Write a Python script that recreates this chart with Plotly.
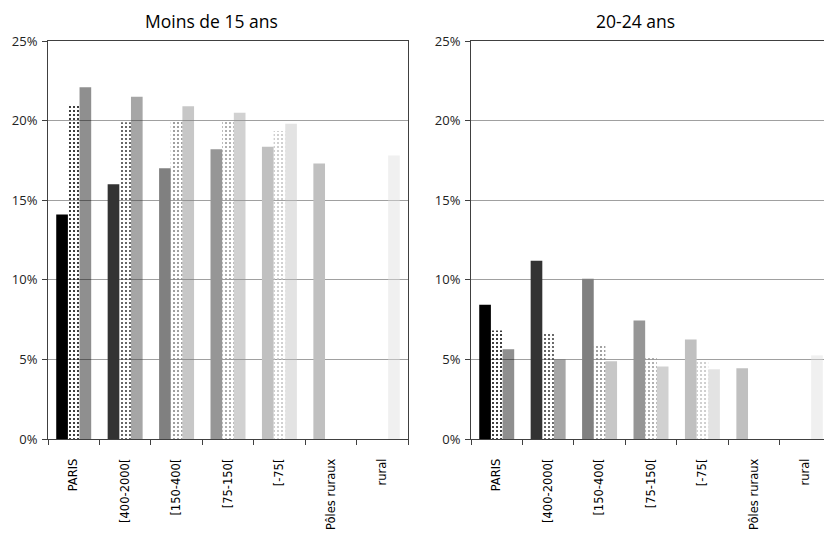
import plotly.graph_objects as go

categories = ["PARIS", "[400-2000[", "[150-400[", "[75-150[", "[-75[", "Pôles ruraux", "rural"]

# Moins de 15 ans (fractions)
young_s1 = [0.141, 0.160, 0.170, 0.182, 0.1835, 0.173, None]
young_s2 = [0.2105, 0.199, 0.200, 0.200, 0.1935, None, None]
young_s3 = [0.221, 0.215, 0.209, 0.205, 0.198, None, 0.178]

# 20-24 ans (fractions)
adult_s1 = [0.0844, 0.1119, 0.1006, 0.0744, 0.0625, 0.0444, None]
adult_s2 = [0.0681, 0.0663, 0.0588, 0.0519, 0.0488, None, None]
adult_s3 = [0.0563, 0.0500, 0.0488, 0.0456, 0.0438, None, 0.0525]

cat_colors = ["#000000", "#333333", "#808080", "#969696", "#c0c0c0", "#c0c0c0", "#dddddd"]

titles = ["Moins de 15 ans", "20-24 ans"]

fig = go.Figure()

def add_panel(s1, s2, s3, xa, ya):
    fig.add_trace(go.Bar(x=categories, y=s1, xaxis=xa, yaxis=ya,
                         marker=dict(color=cat_colors, line=dict(width=0)),
                         showlegend=False))
    fig.add_trace(go.Bar(x=categories, y=s2, xaxis=xa, yaxis=ya,
                         marker=dict(color=cat_colors, line=dict(width=0),
                                     pattern=dict(shape=".", fillmode="replace",
                                                  bgcolor=cat_colors, fgcolor="#ffffff",
                                                  size=4, solidity=0.2)),
                         showlegend=False))
    fig.add_trace(go.Bar(x=categories, y=s3, xaxis=xa, yaxis=ya,
                         marker=dict(color=cat_colors, line=dict(width=0),
                                     pattern=dict(shape=".", fillmode="replace",
                                                  bgcolor=cat_colors, fgcolor="#ffffff",
                                                  size=2, solidity=0.5)),
                         showlegend=False))

add_panel(young_s1, young_s2, young_s3, "x", "y")
add_panel(adult_s1, adult_s2, adult_s3, "x2", "y2")

# page has an 8px body margin: the figure is laid out in its own coordinates
OFF = 8
W = 824
H = 528
ydom = [(H - (439 - OFF)) / H, (H - (41 - OFF)) / H]

xcommon = dict(type="category", categoryorder="array", categoryarray=categories,
               tickson="boundaries", ticks="outside", ticklen=5, tickcolor="#404040",
               showline=True, linecolor="#404040", linewidth=1, mirror=True,
               showgrid=False, tickangle=-90, ticklabelstandoff=14, automargin=False,
               tickfont=dict(family="DejaVu Sans", size=11.5, color="#000000"))
ycommon = dict(range=[0, 0.25], dtick=0.05, tickformat=".0%", ticks="outside",
               ticklen=5, tickcolor="#404040", showline=True, linecolor="#404040",
               linewidth=1, mirror=True, showgrid=True, gridcolor="#a0a0a0",
               gridwidth=1.3, zeroline=False, automargin=False, ticklabelstandoff=2,
               tickfont=dict(family="Open Sans", size=13, color="#222222"))

fig.update_layout(
    width=W, height=H,
    margin=dict(l=0, r=0, t=0, b=0),
    paper_bgcolor="white", plot_bgcolor="white",
    barmode="group", bargap=0.32, bargroupgap=0,
    xaxis=dict(domain=[(48 - OFF) / W, (408 - OFF) / W], anchor="y", **xcommon),
    yaxis=dict(domain=ydom, anchor="x", **ycommon),
    xaxis2=dict(domain=[(471 - OFF) / W, (831 - OFF) / W], anchor="y2", **xcommon),
    yaxis2=dict(domain=ydom, anchor="x2", **ycommon),
    annotations=[
        dict(text=titles[0], x=(211 - OFF) / W, y=1.0,
             xref="paper", yref="paper", borderpad=0,
             showarrow=False, xanchor="center", yanchor="top",
             font=dict(family="Open Sans", size=17.5, color="#000000")),
        dict(text=titles[1], x=(635 - OFF) / W, y=1.0,
             xref="paper", yref="paper", borderpad=0,
             showarrow=False, xanchor="center", yanchor="top",
             font=dict(family="Open Sans", size=17.5, color="#000000")),
    ],
)

fig.write_html("out.html")
